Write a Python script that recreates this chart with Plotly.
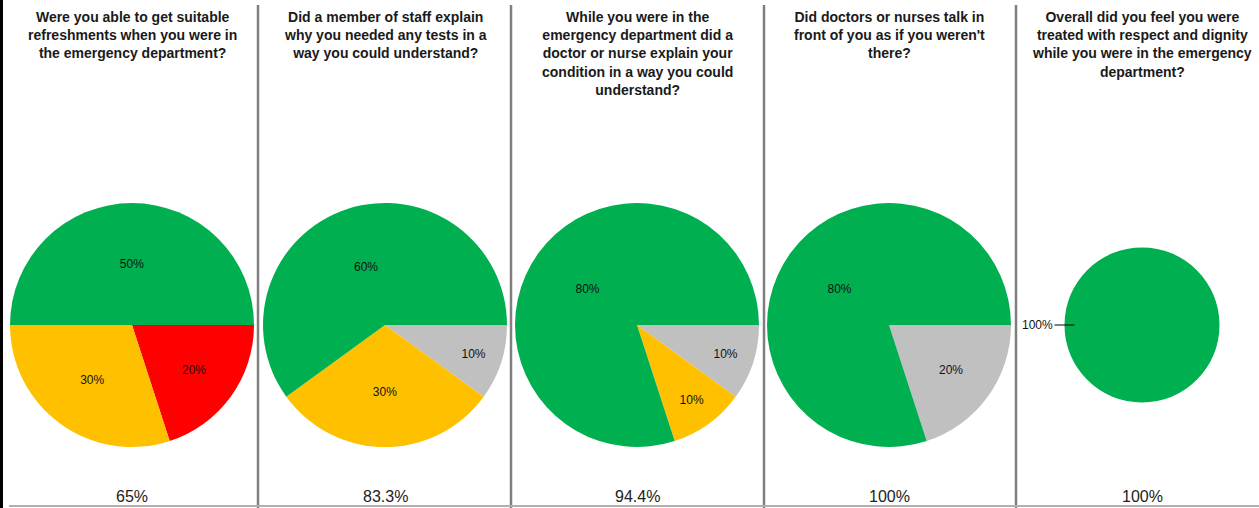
import plotly.graph_objects as go

# ---- data ----
questions = [
    "Were you able to get suitable<br>refreshments when you were in<br>the emergency department?",
    "Did a member of staff explain<br>why you needed any tests in a<br>way you could understand?",
    "While you were in the<br>emergency department did a<br>doctor or nurse explain your<br>condition in a way you could<br>understand?",
    "Did doctors or nurses talk in<br>front of you as if you weren't<br>there?",
    "Overall did you feel you were<br>treated with respect and dignity<br>while you were in the emergency<br>department?",
]
slice_values = [
    [50, 30, 20],
    [60, 30, 10],
    [80, 10, 10],
    [80, 20],
    [100],
]
slice_colors = [
    ["#00B050", "#FFC000", "#FF0000"],
    ["#00B050", "#FFC000", "#C0C0C0"],
    ["#00B050", "#FFC000", "#C0C0C0"],
    ["#00B050", "#C0C0C0"],
    ["#00B050"],
]
scores = ["65%", "83.3%", "94.4%", "100%", "100%"]

# ---- layout geometry (pixels) ----
W, H = 1259, 508
centers_x = [132, 385, 637, 889, 1142]
center_y = 325
diam = [244, 244, 244, 244, 155]
separators = [258, 511, 764, 1016]

fig = go.Figure()
annotations = []
for i, vals in enumerate(slice_values):
    cx = centers_x[i]
    r = diam[i] / 2
    single = len(vals) == 1
    # slices run counter-clockwise from 3 o'clock in the source;
    # equivalently clockwise from 3 o'clock in reversed order
    fig.add_trace(go.Pie(
        values=vals[::-1],
        labels=[f"s{i}_{j}" for j in range(len(vals))][::-1],
        marker=dict(colors=slice_colors[i][::-1], line=dict(width=0)),
        sort=False,
        direction="clockwise",
        rotation=90,
        texttemplate="%{percent:.0%}",
        textposition="none" if single else "inside",
        insidetextorientation="horizontal",
        textfont=dict(family="Liberation Sans", size=12, color="#111111"),
        hoverinfo="label+percent",
        showlegend=False,
        domain=dict(x=[(cx - r) / W, (cx + r) / W],
                    y=[(H - center_y - r) / H, (H - center_y + r) / H]),
    ))
    if single:
        # outside label with a leader line at 9 o'clock
        pct = vals[0] / sum(vals) * 100
        annotations.append(dict(
            x=(cx - r + 10) / W, y=1 - center_y / H, xref="paper", yref="paper",
            text=f"{pct:.0f}%", showarrow=True, arrowhead=0, arrowwidth=1,
            arrowcolor="#000000", ax=-37, ay=0, standoff=0,
            font=dict(family="Liberation Sans", size=12, color="#111111"),
        ))

for i, q in enumerate(questions):
    bold = "<b>" + q.replace("<br>", "</b><br><b>") + "</b>"
    annotations.append(dict(
        x=centers_x[i] / W, y=1 - 7 / H, xref="paper", yref="paper",
        text=bold, showarrow=False, xanchor="center", yanchor="top",
        align="center",
        font=dict(family="Liberation Sans", size=14, color="#1a1a1a"),
    ))
    annotations.append(dict(
        x=centers_x[i] / W, y=1 - 496 / H, xref="paper", yref="paper",
        text=scores[i], showarrow=False, xanchor="center", yanchor="middle",
        font=dict(family="Liberation Sans", size=16, color="#222222"),
    ))

shapes = []
for sx in separators:
    shapes.append(dict(type="line", xref="paper", yref="paper",
                       x0=sx / W, x1=sx / W, y0=0, y1=1 - 5 / H,
                       line=dict(color="#7f7f7f", width=2.5)))
shapes.append(dict(type="rect", xref="paper", yref="paper",
                   x0=0, x1=3 / W, y0=0, y1=1,
                   fillcolor="#000000", line=dict(width=0)))
shapes.append(dict(type="line", xref="paper", yref="paper",
                   x0=9 / W, x1=1, y0=1 - 506 / H, y1=1 - 506 / H,
                   line=dict(color="#b0b0b0", width=2)))

fig.update_layout(
    width=W, height=H,
    margin=dict(l=0, r=0, t=0, b=0),
    paper_bgcolor="white", plot_bgcolor="white",
    annotations=annotations, shapes=shapes,
    showlegend=False,
)
fig.write_html("out.html", config={"displayModeBar": False},
               post_script="document.body.style.margin='0px';document.body.style.overflow='hidden';")
